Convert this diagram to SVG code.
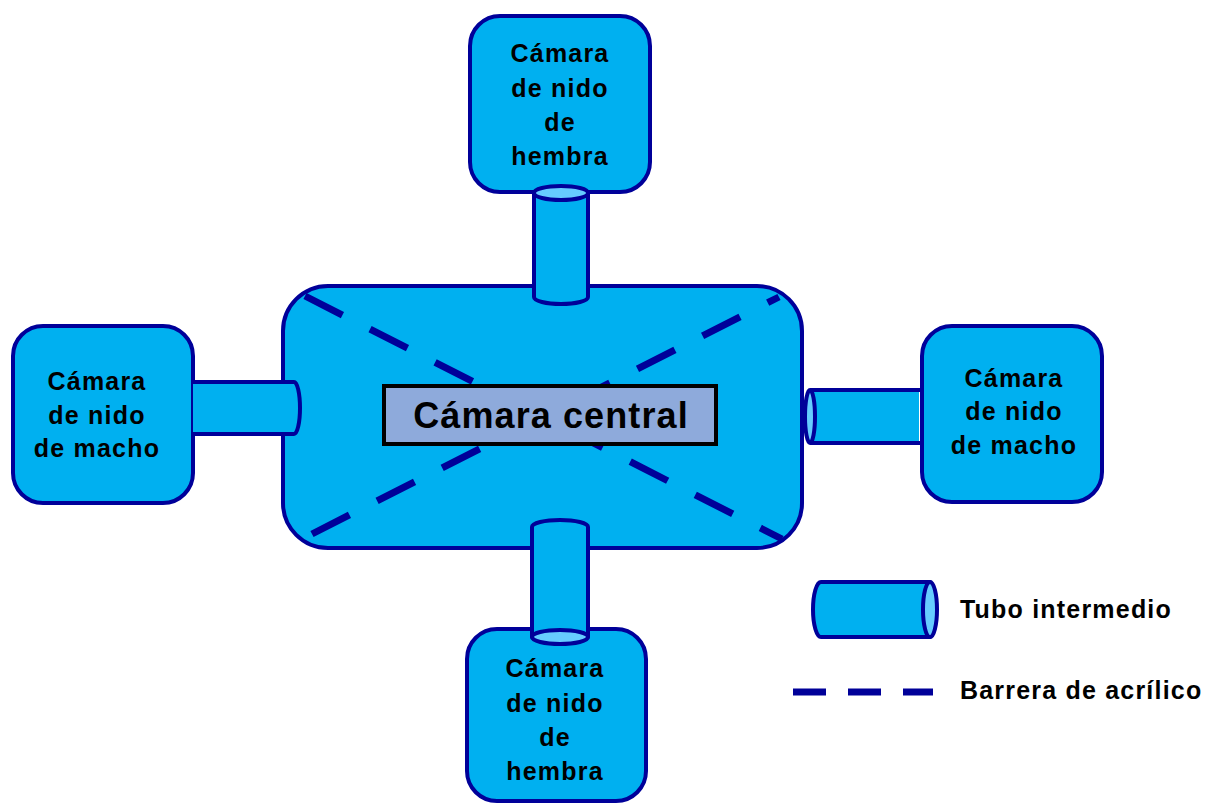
<svg xmlns="http://www.w3.org/2000/svg" width="1207" height="803" viewBox="0 0 1207 803">
<style>
.box{fill:#00b0f0;stroke:#000099;stroke-width:4}
.tube{fill:#00b0f0;stroke:#000099;stroke-width:4;stroke-linejoin:round}
.end{fill:#66ccff;stroke:#000099;stroke-width:4}
.bar{stroke:#000099;stroke-width:7;stroke-dasharray:42 31;fill:none}
.t{font-family:"Liberation Sans",Arial,sans-serif;font-weight:bold;font-size:25px;letter-spacing:1.2px;fill:#000;text-anchor:middle}
.lg{font-family:"Liberation Sans",Arial,sans-serif;font-weight:bold;font-size:25px;letter-spacing:1.2px;fill:#000}
</style>
<rect width="1207" height="803" fill="#fff"/>
<g id="central">
<rect class="box" x="283" y="286" width="519" height="262" rx="45"/>
<g id="barriers">
<line class="bar" x1="305" y1="296" x2="782" y2="539"/>
<line class="bar" x1="312" y1="534" x2="779" y2="297"/>
</g>
<rect x="384" y="386" width="332" height="58" fill="#8eaadb" stroke="#000" stroke-width="4"/>
<text x="551" y="428" style="font-family:'Liberation Sans',Arial,sans-serif;font-weight:bold;font-size:36px;letter-spacing:1.1px;text-anchor:middle">Cámara central</text>
</g>
<g id="top">
<rect class="box" x="470" y="16" width="180" height="176" rx="30"/>
<text class="t" x="560" y="62">Cámara</text>
<text class="t" x="560" y="97">de nido</text>
<text class="t" x="560" y="131">de</text>
<text class="t" x="560" y="165">hembra</text>
</g>
<g id="left">
<rect class="box" x="13" y="326" width="180" height="177" rx="30"/>
<text class="t" x="97" y="390">Cámara</text>
<text class="t" x="97" y="424">de nido</text>
<text class="t" x="97" y="457">de macho</text>
</g>
<g id="right">
<rect class="box" x="922" y="326" width="180" height="176" rx="30"/>
<text class="t" x="1014" y="387">Cámara</text>
<text class="t" x="1014" y="420">de nido</text>
<text class="t" x="1014" y="454">de macho</text>
</g>
<g id="bottom">
<rect class="box" x="467" y="629" width="179" height="172" rx="30"/>
<text class="t" x="555" y="677">Cámara</text>
<text class="t" x="555" y="712">de nido</text>
<text class="t" x="555" y="746">de</text>
<text class="t" x="555" y="780">hembra</text>
</g>
<g id="connectors">
<g id="tube-top">
<path class="tube" d="M534,193 L534,297 A27,7 0 0 0 588,297 L588,193 Z"/>
<ellipse class="end" cx="561" cy="193" rx="27" ry="7"/>
</g>
<g id="tube-left">
<path class="tube" d="M193,382 L294,382 A6,26 0 0 1 294,434 L193,434"/>
</g>
<g id="tube-right">
<path class="tube" d="M810,390 L920,390 M920,443 L810,443"/>
<rect x="812" y="392" width="107" height="49" fill="#00b0f0"/>
<ellipse class="end" cx="810" cy="416.5" rx="5" ry="26.5"/>
</g>
<g id="tube-bottom">
<path class="tube" d="M532,527 A28,7 0 0 1 588,527 L588,637 L532,637 Z"/>
<ellipse class="end" cx="560" cy="637" rx="28" ry="7"/>
</g>
</g>
<g id="legend">
<path class="tube" d="M930,582 L821,582 A8,27.5 0 0 0 821,637 L930,637 Z"/>
<ellipse class="end" cx="930" cy="609.5" rx="7" ry="27.5"/>
<text class="lg" x="960" y="618">Tubo intermedio</text>
<line x1="793" y1="692" x2="933" y2="692" stroke="#000099" stroke-width="7" stroke-dasharray="33 22"/>
<text class="lg" x="960" y="699">Barrera de acrílico</text>
</g>
</svg>
